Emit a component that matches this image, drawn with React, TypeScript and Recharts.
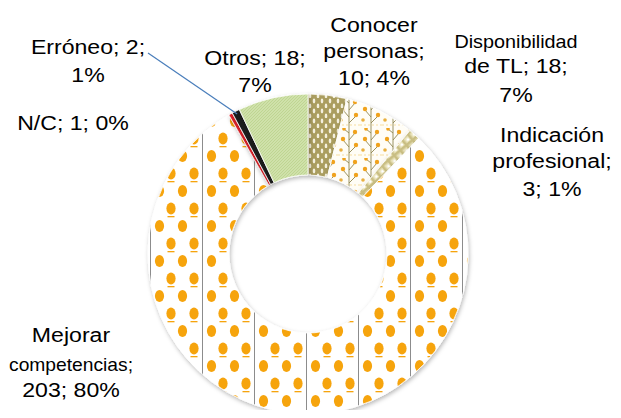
import { PieChart, Pie, Cell } from 'recharts';

const categories = [
  'Conocer personas',
  'Disponibilidad de TL',
  'Indicación profesional',
  'Mejorar competencias',
  'N/C',
  'Erróneo',
  'Otros',
];
const counts = [10, 18, 3, 203, 1, 2, 18];

const data = categories.map((name, i) => ({ name, value: counts[i] }));

const fillFor: Record<string, string> = {
  'Conocer personas': 'url(#pConocer)',
  'Disponibilidad de TL': 'url(#pDispo)',
  'Indicación profesional': 'url(#pIndic)',
  'Mejorar competencias': 'url(#pMejorar)',
  'N/C': '#e0242a',
  'Erróneo': '#1c1c1c',
  'Otros': 'url(#pOtros)',
};

// label placement relative to the pie centre (Excel labels were moved by hand)
// lines = how many words go on each line, dy = baseline of each line
const labelLayout: Record<string, { dx: number; lines: number[]; dy: number[]; sizes: number[]; leader?: [number, number] }> = {
  'Conocer personas': { dx: 66, lines: [1, 1, 2], dy: [-222, -196, -169], sizes: [21, 21, 21] },
  'Disponibilidad de TL': { dx: 208, lines: [1, 3, 1], dy: [-206, -181, -152], sizes: [18, 21, 21] },
  'Indicación profesional': { dx: 244, lines: [1, 1, 2], dy: [-112, -86, -58], sizes: [21, 21, 21] },
  'Mejorar competencias': { dx: -237, lines: [1, 1, 2], dy: [88, 117, 143], sizes: [21, 17.5, 21] },
  'N/C': { dx: -235, lines: [3], dy: [-124], sizes: [21] },
  'Erróneo': { dx: -220, lines: [2, 1], dy: [-200, -172], sizes: [21, 21], leader: [-160, -201] },
  'Otros': { dx: -53, lines: [2, 1], dy: [-189, -162], sizes: [21, 21] },
};

const RAD = Math.PI / 180;

function renderLabel(props: any) {
  const { cx, cy, midAngle, outerRadius, percent, value } = props;
  const name = props.payload?.name ?? props.name;
  const lay = labelLayout[name];
  if (!lay) return null;
  const tokens = `${name}; ${value}; ${Math.round(percent * 100)}%`.split(' ');
  const rows: string[] = [];
  let k = 0;
  lay.lines.forEach((n) => {
    rows.push(tokens.slice(k, k + n).join(' '));
    k += n;
  });
  const x = cx + lay.dx;
  let leader = null;
  if (lay.leader) {
    const r = outerRadius - 3;
    const ex = cx + r * Math.cos(-midAngle * RAD);
    const ey = cy + r * Math.sin(-midAngle * RAD);
    leader = (
      <line x1={cx + lay.leader[0]} y1={cy + lay.leader[1]} x2={ex} y2={ey} stroke="#4a7ebb" strokeWidth={1.2} />
    );
  }
  return (
    <g key={`lbl-${name}`}>
      {leader}
      {rows.map((row, i) => (
        <text
          key={i}
          transform={`translate(${x} ${cy + lay.dy[i]}) scale(1.1 1)`}
          textAnchor="middle"
          fontSize={lay.sizes[i]}
          fontFamily="'Liberation Sans', Arial, sans-serif"
          fill="#000"
        >
          {row}
        </text>
      ))}
    </g>
  );
}

export default function App() {
  return (
    <div style={{ width: 605, height: 402 }}>
      <PieChart width={605} height={402} margin={{ top: 0, right: 0, bottom: 0, left: 0 }}>
        <defs>
          <filter id="sh" x="-30%" y="-30%" width="160%" height="160%">
            <feDropShadow dx="1" dy="2" stdDeviation="2" floodColor="#000" floodOpacity="0.28" />
          </filter>
          <pattern id="pMejorar" patternUnits="userSpaceOnUse" x={194} y={0} width={52} height={35}>
            <rect width={52} height={35} fill="#ffffff" />
            <line x1={0.5} y1={0} x2={0.5} y2={35} stroke="#8c8c8c" strokeWidth={1} />
            {[9.5, 21, 32.5, 44].map((cxp, i) => (
              <g key={i}>
                <ellipse cx={cxp} cy={i % 2 ? 25.5 : 8} rx={4.6} ry={6} fill="#f6a40c" />
                {i % 2 === 1 && <rect x={cxp - 3.5} y={33} width={7} height={1.3} fill="#f6a40c" />}
              </g>
            ))}
          </pattern>
          <pattern id="pOtros" patternUnits="userSpaceOnUse" width={3} height={3}>
            <rect width={3} height={3} fill="#cfe1aa" />
            <path d="M0 3 L3 0 M-1 1 L1 -1 M2 4 L4 2" stroke="#bbd28c" strokeWidth={0.8} />
          </pattern>
          <pattern id="pConocer" patternUnits="userSpaceOnUse" width={8} height={10}>
            <rect width={8} height={10} fill="#aa9d5e" />
            <ellipse cx={2} cy={3} rx={1.3} ry={2.4} fill="#f4f0de" />
            <ellipse cx={6} cy={8} rx={1.3} ry={2.4} fill="#f4f0de" />
          </pattern>
          <pattern id="pDispo" patternUnits="userSpaceOnUse" width={22} height={30}>
            <rect width={22} height={30} fill="#fffdf6" />
            <path d="M11 30 L11 0 M11 19 L5 12 M11 12 L17 5 M11 25 L18 18 M11 5 L6 1" stroke="#8f8650" strokeWidth={0.9} fill="none" />
            <line x1={0} y1={27} x2={22} y2={27} stroke="#f2cf7a" strokeWidth={0.7} strokeDasharray="2 2" />
            <circle cx={5} cy={11} r={2.2} fill="#f0a21a" />
            <circle cx={17} cy={4} r={2.2} fill="#f0a21a" />
            <circle cx={18} cy={17} r={2.2} fill="#f0a21a" />
            <circle cx={6} cy={1} r={1.8} fill="#f0a21a" />
            <circle cx={3} cy={22} r={1.8} fill="#e9b040" />
          </pattern>
          <pattern id="pIndic" patternUnits="userSpaceOnUse" width={8} height={8} patternTransform="rotate(-40)">
            <rect width={8} height={8} fill="#e8e1b8" />
            <rect x={0} y={0} width={2.5} height={8} fill="#c9be83" />
            <rect x={0} y={0} width={8} height={2.5} fill="#c9be83" />
            <rect x={4.5} y={4.5} width={2.5} height={2.5} fill="#ffffff" />
          </pattern>
        </defs>
        <Pie
          data={data}
          dataKey="value"
          nameKey="name"
          cx={300}
          cy={246}
          innerRadius={79}
          outerRadius={160}
          startAngle={90}
          endAngle={-270}
          stroke="#ffffff"
          strokeWidth={0.8}
          label={renderLabel}
          labelLine={false}
          isAnimationActive={false}
        >
          {data.map((d) => (
            <Cell key={d.name} fill={fillFor[d.name]} filter="url(#sh)" />
          ))}
        </Pie>
      </PieChart>
    </div>
  );
}
